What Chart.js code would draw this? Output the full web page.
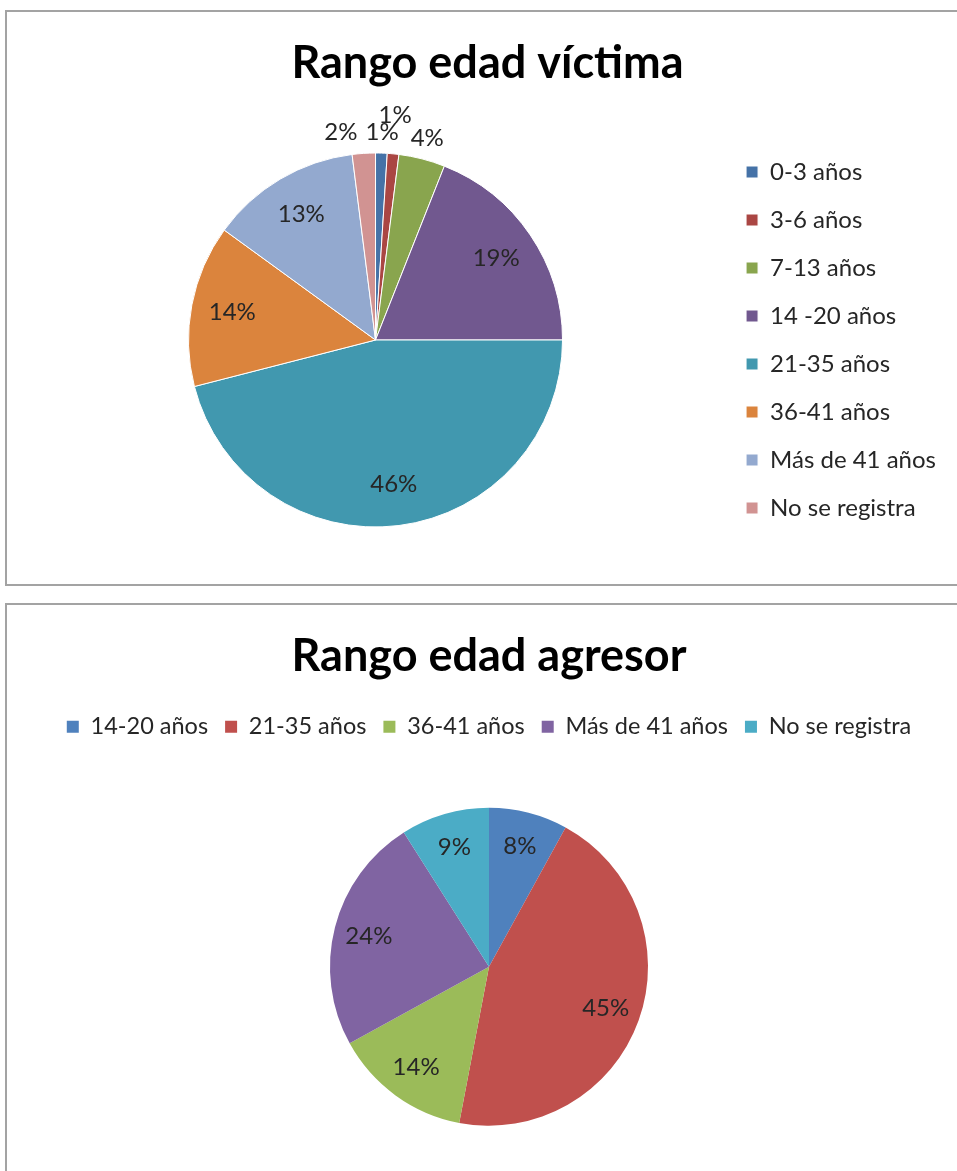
<!DOCTYPE html>
<html lang="es">

<head>
    <meta charset="UTF-8">
    <title>Rango edad</title>
    <style>
        body { margin: 0; overflow: hidden; background: #fff; }
        .caja { position: absolute; left: 5px; width: 1000px; border: 2px solid #a3a3a3; background: #fff; }
        #cajaVictima { top: 10px; height: 572px; }
        #cajaAgresor { top: 603px; height: 600px; }
        canvas { position: absolute; left: 0; top: 0; }
    </style>
</head>

<body>
    <div class="caja" id="cajaVictima"><canvas id="graficoVictima" width="966" height="572"></canvas></div>
    <div class="caja" id="cajaAgresor"><canvas id="graficoAgresor" width="966" height="585"></canvas></div>

    <script src="https://cdn.jsdelivr.net/npm/chart.js"></script>
    <script>
        // datos (porcentajes)
        const categoriasVictima = ['0-3 años', '3-6 años', '7-13 años', '14 -20 años', '21-35 años', '36-41 años', 'Más de 41 años', 'No se registra']
        const valoresVictima = [1, 1, 4, 19, 46, 14, 13, 2]
        const coloresVictima = ['#4572a7', '#aa4643', '#89a54e', '#71588f', '#4198af', '#db843d', '#93a9cf', '#d19392']

        const categoriasAgresor = ['14-20 años', '21-35 años', '36-41 años', 'Más de 41 años', 'No se registra']
        const valoresAgresor = [8, 45, 14, 24, 9]
        const coloresAgresor = ['#4f81bd', '#c0504d', '#9bbb59', '#8064a2', '#4bacc6']

        const fuente = 'Lato'
        const colorTexto = '#262626'

        // etiquetas de porcentaje, dentro del sector o afuera si es chico
        const etiquetasPct = {
            id: 'etiquetasPct',
            afterDatasetsDraw(chart) {
                const ctx = chart.ctx
                const meta = chart.getDatasetMeta(0)
                const datos = chart.data.datasets[0].data
                const total = datos.reduce((a, b) => a + b, 0)
                ctx.save()
                ctx.font = '24px ' + fuente
                ctx.fillStyle = colorTexto
                ctx.textAlign = 'center'
                ctx.textBaseline = 'middle'
                let puestas = []
                meta.data.forEach((arco, i) => {
                    const p = arco.getProps(['x', 'y', 'startAngle', 'endAngle', 'outerRadius'], true)
                    const medio = (p.startAngle + p.endAngle) / 2
                    const pct = datos[i] / total * 100
                    const texto = Math.round(pct) + '%'
                    const fuera = pct < 6
                    const r = fuera ? p.outerRadius + 21 : p.outerRadius * 0.78
                    let x = p.x + Math.cos(medio) * r
                    let y = p.y + Math.sin(medio) * r
                    const w = ctx.measureText(texto).width
                    if (fuera) {
                        // si choca con otra etiqueta: a la derecha sube, a la izquierda se corre
                        puestas.forEach(q => {
                            if (Math.abs(q.y - y) < 20 && Math.abs(q.x - x) < (q.w + w) / 2 + 2) {
                                if (x > p.x) y = q.y - 17
                                else x = q.x - (q.w + w) / 2 - 8
                            }
                        })
                        puestas.push({ x, y, w })
                    }
                    ctx.fillText(texto, x, y)
                })
                ctx.restore()
            }
        }

        new Chart(document.querySelector('#graficoVictima'), {
            type: 'pie',
            data: {
                labels: categoriasVictima,
                datasets: [{
                    data: valoresVictima,
                    backgroundColor: coloresVictima,
                    borderColor: '#ffffff',
                    borderWidth: 1
                }]
            },
            options: {
                responsive: false,
                animation: false,
                radius: 187,
                layout: { padding: { left: 22, right: 27, top: 0, bottom: 14 } },
                plugins: {
                    title: {
                        display: true,
                        text: 'Rango edad víctima',
                        color: '#000',
                        font: { family: fuente, size: 45, weight: 'bold' },
                        padding: { top: 24, bottom: 20 }
                    },
                    legend: {
                        position: 'right',
                        fullSize: false,
                        labels: {
                            color: colorTexto,
                            font: { family: fuente, size: 24 },
                            boxWidth: 12,
                            boxHeight: 12,
                            padding: 24
                        }
                    },
                    tooltip: { enabled: false }
                }
            },
            plugins: [etiquetasPct]
        })

        new Chart(document.querySelector('#graficoAgresor'), {
            type: 'pie',
            data: {
                labels: categoriasAgresor,
                datasets: [{
                    data: valoresAgresor,
                    backgroundColor: coloresAgresor,
                    borderColor: '#ffffff',
                    borderWidth: 0
                }]
            },
            options: {
                responsive: false,
                animation: false,
                radius: 159,
                layout: { padding: { left: 0, right: 2, top: 0, bottom: 5 } },
                plugins: {
                    title: {
                        display: true,
                        text: 'Rango edad agresor',
                        color: '#000',
                        font: { family: fuente, size: 45, weight: 'bold' },
                        padding: { top: 24, bottom: 15 }
                    },
                    legend: {
                        position: 'top',
                        labels: {
                            color: colorTexto,
                            font: { family: fuente, size: 23.5 },
                            boxWidth: 12,
                            boxHeight: 12,
                            padding: 17
                        }
                    },
                    tooltip: { enabled: false }
                }
            },
            plugins: [etiquetasPct]
        })
    </script>
</body>

</html>
